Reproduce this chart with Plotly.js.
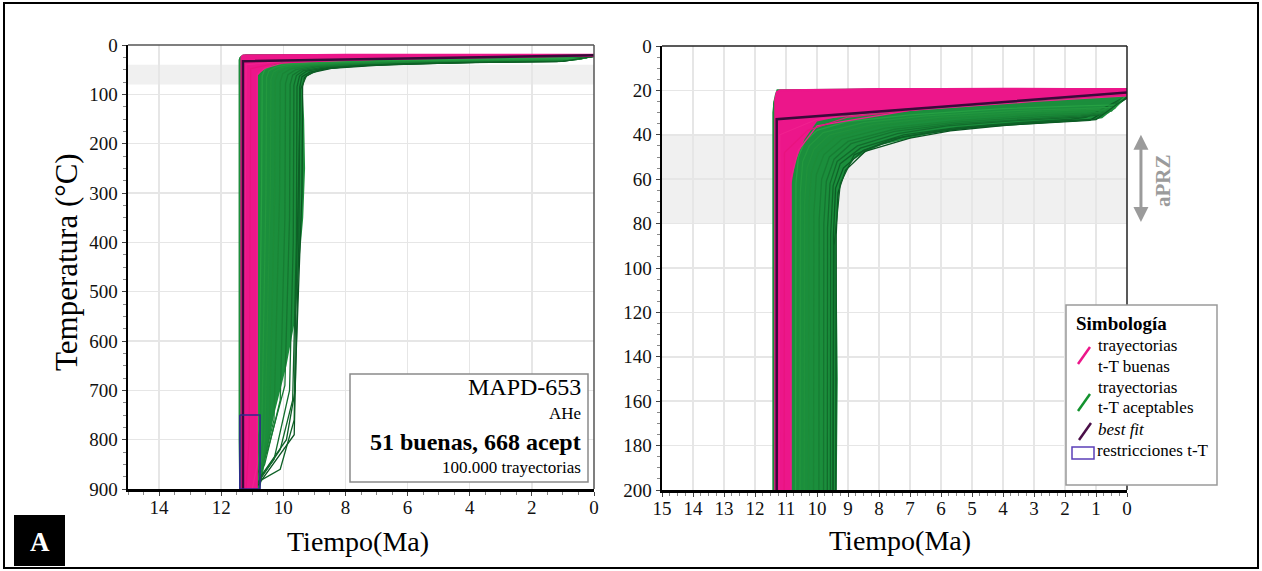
<!DOCTYPE html>
<html><head><meta charset="utf-8">
<script src="https://cdn.plot.ly/plotly-3.0.1.min.js"></script>
<style>html,body{margin:0;padding:0;background:#fff}#chart{width:1262px;height:571px}</style>
</head><body><div id="chart"></div>
<script>
// ---------------- DATA ----------------
const bestFitTime = [11.3, 11.3, 0];
const bestFitTemp = [900, 33, 21];

const constraintTime = [11.4, 10.75, 10.75, 11.4, 11.4];
const constraintTemp = [750, 750, 900, 900, 750];

const aprzTemp = [40, 80];

// envelope of the "good" (pink) paths
const pinkEnvTime = [11.36, 11.36, 11.32, 11.2, 8, 4, 0, 0, 2, 4, 7, 9, 10, 10.4, 10.7, 10.82, 10.82];
const pinkEnvTemp = [900, 24, 20.5, 19.5, 19, 18.8, 19, 22.5, 23.8, 25.2, 28, 31, 34, 42, 52, 62, 900];

// envelope of the "acceptable" (green) paths
const greenEnvTime = [11.42, 11.42, 11.36, 11.3, 8, 4, 0, 0, 0.4, 0.8, 1.2, 2, 3, 4, 5, 5.7, 6.5, 7, 7.9, 8.4, 8.8, 9.06, 9.25, 9.35, 9.38, 9.33, 9.3, 9.36, 9.5, 9.6, 9.9, 10.3, 10.6, 10.75];
const greenEnvTemp = [900, 26, 22, 19.5, 19.2, 19.2, 19.6, 23.5, 28, 32.5, 33.5, 34.2, 35, 35.8, 37, 38.2, 40, 41.5, 44.5, 47.5, 51, 56, 63, 72, 85, 150, 250, 350, 450, 550, 650, 750, 850, 900];

// individual acceptable paths
const greenPathTimes = [
  [10.85, 9.65, 9.6, 9.4, 9.38, 9.32, 9.08, 8.45, 7.0, 5.7, 4.0, 2.0, 1.2, 0],
  [10.9, 9.9, 9.62, 9.5, 9.47, 9.4, 9.15, 8.5, 7.2, 5.5, 3.8, 2.0, 1.0, 0],
  [10.95, 10.1, 9.7, 9.58, 9.56, 9.48, 9.25, 8.6, 7.2, 5.5, 3.5, 1.8, 1.3, 0],
  [11.0, 10.3, 9.8, 9.68, 9.66, 9.58, 9.35, 8.7, 7.4, 5.8, 3.5, 1.5, 0.9, 0],
  [10.9, 10.5, 9.95, 9.8, 9.78, 9.7, 9.45, 8.9, 7.5, 5.5, 3.0, 1.5, 0.8, 0],
  [11.05, 10.6, 10.1, 9.95, 9.93, 9.85, 9.6, 9.0, 7.5, 5.5, 3.0, 1.5, 0.6, 0],
  [11.1, 10.7, 10.3, 10.12, 10.1, 10.02, 9.78, 9.2, 7.8, 5.5, 3.0, 1.3, 0.5, 0],
  [11.0, 10.75, 10.45, 10.28, 10.26, 10.18, 9.95, 9.4, 8.0, 6.0, 3.0, 1.5, 0.5, 0],
  [10.95, 10.8, 10.6, 10.42, 10.4, 10.32, 10.1, 9.6, 8.2, 6.0, 3.0, 1.5, 0.4, 0],
  [11.1, 10.85, 10.7, 10.56, 10.54, 10.46, 10.25, 9.8, 8.5, 6.5, 3.5, 1.5, 0.4, 0],
  [11.2, 11.0, 10.8, 10.7, 10.68, 10.6, 10.4, 10.0, 9.0, 7.0, 4.0, 1.5, 0.3, 0],
  [10.8, 10.1, 9.65, 9.62, 9.52, 9.45, 9.25, 8.8, 7.6, 6.0, 4.5, 2.5, 1.0, 0],
  [11.4, 11.42, 11.42, 11.38, 11.3, 11.2, 8.0, 4.0, 0]
];
const greenPathTemps = [
  [895, 790, 650, 300, 85, 66, 56, 47.5, 41.5, 38.2, 35.8, 34.2, 33.5, 23.5],
  [890, 800, 700, 400, 85, 64, 55, 47, 40.8, 37.4, 35.2, 33.8, 33, 23],
  [900, 820, 720, 400, 85, 63, 53, 46, 40, 36.8, 34.5, 33, 32, 22.5],
  [900, 840, 700, 400, 82, 62, 52, 45, 39.5, 36, 33.5, 32, 31, 22.5],
  [880, 820, 690, 350, 80, 61, 51, 44, 38.5, 35, 32.8, 31.5, 30.5, 22],
  [900, 850, 720, 350, 78, 60, 50, 43, 37.5, 34.3, 32, 31, 30, 22],
  [900, 860, 760, 300, 75, 58, 49, 42, 37, 33.6, 31.2, 30.2, 29.3, 22],
  [900, 870, 780, 300, 72, 57, 48, 41, 36, 32.8, 30.3, 29.5, 28.8, 21.8],
  [900, 880, 800, 300, 70, 55, 46.5, 40, 35.3, 32, 29.6, 28.8, 28.2, 21.8],
  [900, 860, 800, 300, 66, 52, 45, 39, 34.5, 31.5, 29, 28.2, 27.5, 21.6],
  [900, 840, 780, 300, 62, 50, 43, 38, 34, 31, 28.2, 27, 26.5, 21.5],
  [885, 860, 760, 600, 300, 90, 62, 49, 42, 38, 35.8, 34.5, 33.2, 23],
  [900, 800, 30, 25, 22.5, 20.3, 19.5, 19.3, 19.5]
];

// individual good paths
const pinkPathTimes = [
  [11.0, 10.84, 10.84, 10.6, 10.0, 7.0, 3.0, 0],
  [11.2, 11.1, 11.05, 10.3, 9.0, 5.0, 0],
  [11.3, 11.25, 11.2, 10.0, 6.0, 0],
  [11.36, 11.36, 11.3, 8.0, 0]
];
const pinkPathTemps = [
  [900, 850, 60, 47, 36, 29, 25, 22.5],
  [900, 800, 48, 38, 32, 26, 22],
  [900, 600, 40, 33, 27, 21.5],
  [900, 24, 20.5, 19.2, 19.2]
];

// ---------------- STYLE ----------------
const PINK = '#ec168a';
const GREEN = '#1b8e3c';
const greenLineColors = ['#0a5321','#0c5b25','#0f6428','#126c2c','#157530','#177d33','#1a8536','#1d8c39','#20923c','#23983f','#26a043','#0d6026','#188a38'];
const pinkLineColors = ['#f0218f','#e9137f','#f0218f','#ec168a'];
const SERIF = 'Liberation Serif, Times New Roman, serif';

const traces = [];
function addSet(xa, ya) {
  traces.push({x: greenEnvTime, y: greenEnvTemp, xaxis: xa, yaxis: ya, type: 'scatter', mode: 'lines',
    fill: 'toself', fillcolor: GREEN, line: {width: 0, color: GREEN}, hoverinfo: 'skip'});
  greenPathTimes.forEach((t, i) => traces.push({x: t, y: greenPathTemps[i], xaxis: xa, yaxis: ya,
    type: 'scatter', mode: 'lines', line: {width: 1.3, color: greenLineColors[i]}, hoverinfo: 'skip'}));
  traces.push({x: pinkEnvTime, y: pinkEnvTemp, xaxis: xa, yaxis: ya, type: 'scatter', mode: 'lines',
    fill: 'toself', fillcolor: PINK, line: {width: 0, color: PINK}, hoverinfo: 'skip'});
  pinkPathTimes.forEach((t, i) => traces.push({x: t, y: pinkPathTemps[i], xaxis: xa, yaxis: ya,
    type: 'scatter', mode: 'lines', line: {width: 1.2, color: pinkLineColors[i]}, hoverinfo: 'skip'}));
  traces.push({x: bestFitTime, y: bestFitTemp, xaxis: xa, yaxis: ya, type: 'scatter', mode: 'lines',
    line: {width: 2.5, color: '#3a0a3a'}, hoverinfo: 'skip'});
  traces.push({x: constraintTime, y: constraintTemp, xaxis: xa, yaxis: ya, type: 'scatter', mode: 'lines',
    line: {width: 1.6, color: '#2d2a8c'}, hoverinfo: 'skip'});
}
addSet('x', 'y');
addSet('x2', 'y2');

const W = 1262, H = 571;
const px = v => v / W;
const py = v => 1 - v / H;

function axisBase(extra) {
  return Object.assign({
    showgrid: true, gridcolor: '#e6e6e6', gridwidth: 1.5, zeroline: false,
    showline: true, linecolor: '#000', linewidth: 2.5,
    ticks: 'outside', ticklen: 4, tickwidth: 1, tickcolor: '#444',
    tickfont: {family: SERIF, size: 19, color: '#111'},
    fixedrange: true
  }, extra);
}

const shapes = [
  // aPRZ bands
  {type: 'rect', xref: 'x domain', yref: 'y', x0: 0, x1: 1, y0: aprzTemp[0], y1: aprzTemp[1], fillcolor: '#f0f0f0', line: {width: 0}, layer: 'below'},
  {type: 'rect', xref: 'x2 domain', yref: 'y2', x0: 0, x1: 1, y0: aprzTemp[0], y1: aprzTemp[1], fillcolor: '#f0f0f0', line: {width: 0}, layer: 'below'},
  // top / right frame of plots
  {type: 'line', xref: 'x domain', yref: 'y domain', x0: 0, x1: 1, y0: 1, y1: 1, line: {color: '#555', width: 1.5}},
  {type: 'line', xref: 'x domain', yref: 'y domain', x0: 1, x1: 1, y0: 0, y1: 1, line: {color: '#555', width: 1.5}},
  {type: 'line', xref: 'x2 domain', yref: 'y2 domain', x0: 0, x1: 1, y0: 1, y1: 1, line: {color: '#222', width: 1.5}},
  {type: 'line', xref: 'x2 domain', yref: 'y2 domain', x0: 1, x1: 1, y0: 0, y1: 1, line: {color: '#222', width: 1.5}},
  // outer figure frame
  {type: 'rect', xref: 'paper', yref: 'paper', x0: px(4), x1: px(1258), y0: py(568), y1: py(3), line: {color: '#000', width: 2}},
  // "A" box
  {type: 'rect', xref: 'paper', yref: 'paper', x0: px(14), x1: px(65), y0: py(566), y1: py(515), fillcolor: '#000', line: {width: 0}},
  // info box
  {type: 'rect', xref: 'paper', yref: 'paper', x0: px(350), x1: px(588), y0: py(482), y1: py(374), fillcolor: '#fff', line: {color: '#8a8a8a', width: 1.5}},
  // legend box
  {type: 'rect', xref: 'paper', yref: 'paper', x0: px(1066), x1: px(1217), y0: py(485), y1: py(305), fillcolor: '#fff', line: {color: '#9a9a9a', width: 1.5}},
  // legend icons
  {type: 'line', xref: 'paper', yref: 'paper', x0: px(1078), y0: py(364), x1: px(1090), y1: py(347), line: {color: PINK, width: 2.5}},
  {type: 'line', xref: 'paper', yref: 'paper', x0: px(1078), y0: py(411), x1: px(1090), y1: py(394), line: {color: '#13922e', width: 2.5}},
  {type: 'line', xref: 'paper', yref: 'paper', x0: px(1079), y0: py(440), x1: px(1091), y1: py(423), line: {color: '#4a0f48', width: 2.5}},
  {type: 'rect', xref: 'paper', yref: 'paper', x0: px(1072), x1: px(1094), y0: py(459), y1: py(447), line: {color: '#5b3fb8', width: 1.5}}
];

const ann = (x, y, text, size, opts) => Object.assign({xref: 'paper', yref: 'paper', x: px(x), y: py(y), text: text,
  showarrow: false, font: {family: SERIF, size: size, color: '#000'}, xanchor: 'left', yanchor: 'middle'}, opts || {});

const annotations = [
  ann(66, 262, 'Temperatura (°C)', 31, {xanchor: 'center', textangle: -90}),
  ann(358, 541, 'Tiempo(Ma)', 28, {xanchor: 'center'}),
  ann(900, 540, 'Tiempo(Ma)', 28, {xanchor: 'center'}),
  ann(39.5, 542, '<b>A</b>', 27, {xanchor: 'center', font: {family: SERIF, size: 27, color: '#fff'}}),
  ann(583, 387, 'MAPD-653', 24, {xanchor: 'right'}),
  ann(583, 413, 'AHe', 17, {xanchor: 'right'}),
  ann(583, 442, '<b>51 buenas, 668 acept</b>', 24, {xanchor: 'right'}),
  ann(583, 467, '100.000 trayectorias', 17, {xanchor: 'right'}),
  ann(1074, 323, '<b>Simbología</b>', 19),
  ann(1096, 345, 'trayectorias', 17),
  ann(1096, 366, 't-T buenas', 17),
  ann(1096, 387, 'trayectorias', 17),
  ann(1096, 408, 't-T aceptables', 17),
  ann(1096, 429, '<i>best fit</i>', 17),
  ann(1095, 450, 'restricciones t-T', 17),
  ann(1163, 181, '<b>aPRZ</b>', 21, {xanchor: 'center', textangle: -90, font: {family: SERIF, size: 21, color: '#9b9b9b'}}),
  {xref: 'x2 domain', yref: 'y2', x: 1.03, y: aprzTemp[0], axref: 'x2 domain', ayref: 'y2', ax: 1.03, ay: aprzTemp[1],
   text: '', showarrow: true, arrowside: 'end+start', arrowhead: 2, arrowsize: 1, arrowwidth: 3, arrowcolor: '#9b9b9b'}
];

const layout = {
  width: W, height: H, margin: {l: 0, r: 0, t: 0, b: 0},
  paper_bgcolor: '#fff', plot_bgcolor: '#fff', showlegend: false,
  xaxis: axisBase({domain: [px(128), px(594)], range: [15, 0], dtick: 2, tick0: 0, anchor: 'y', ticklabelstandoff: -4,
    minor: {ticks: 'outside', ticklen: 3, dtick: 0.5, tickcolor: '#888', showgrid: false}}),
  yaxis: axisBase({domain: [py(489), py(45)], range: [900, 0], dtick: 100, tick0: 0, anchor: 'x',
    minor: {ticks: 'outside', ticklen: 3, dtick: 25, tickcolor: '#888', showgrid: false}}),
  xaxis2: axisBase({domain: [px(662), px(1127)], range: [15, 0], dtick: 1, tick0: 0, anchor: 'y2', ticklabelstandoff: -4,
    minor: {ticks: 'outside', ticklen: 3, dtick: 0.25, tickcolor: '#888', showgrid: false}}),
  yaxis2: axisBase({domain: [py(490), py(46)], range: [200, 0], dtick: 20, tick0: 0, anchor: 'x2',
    minor: {ticks: 'outside', ticklen: 3, dtick: 5, tickcolor: '#888', showgrid: false}}),
  shapes: shapes,
  annotations: annotations
};

Plotly.newPlot('chart', traces, layout, {displayModeBar: false, staticPlot: true});
</script>
</body></html>
